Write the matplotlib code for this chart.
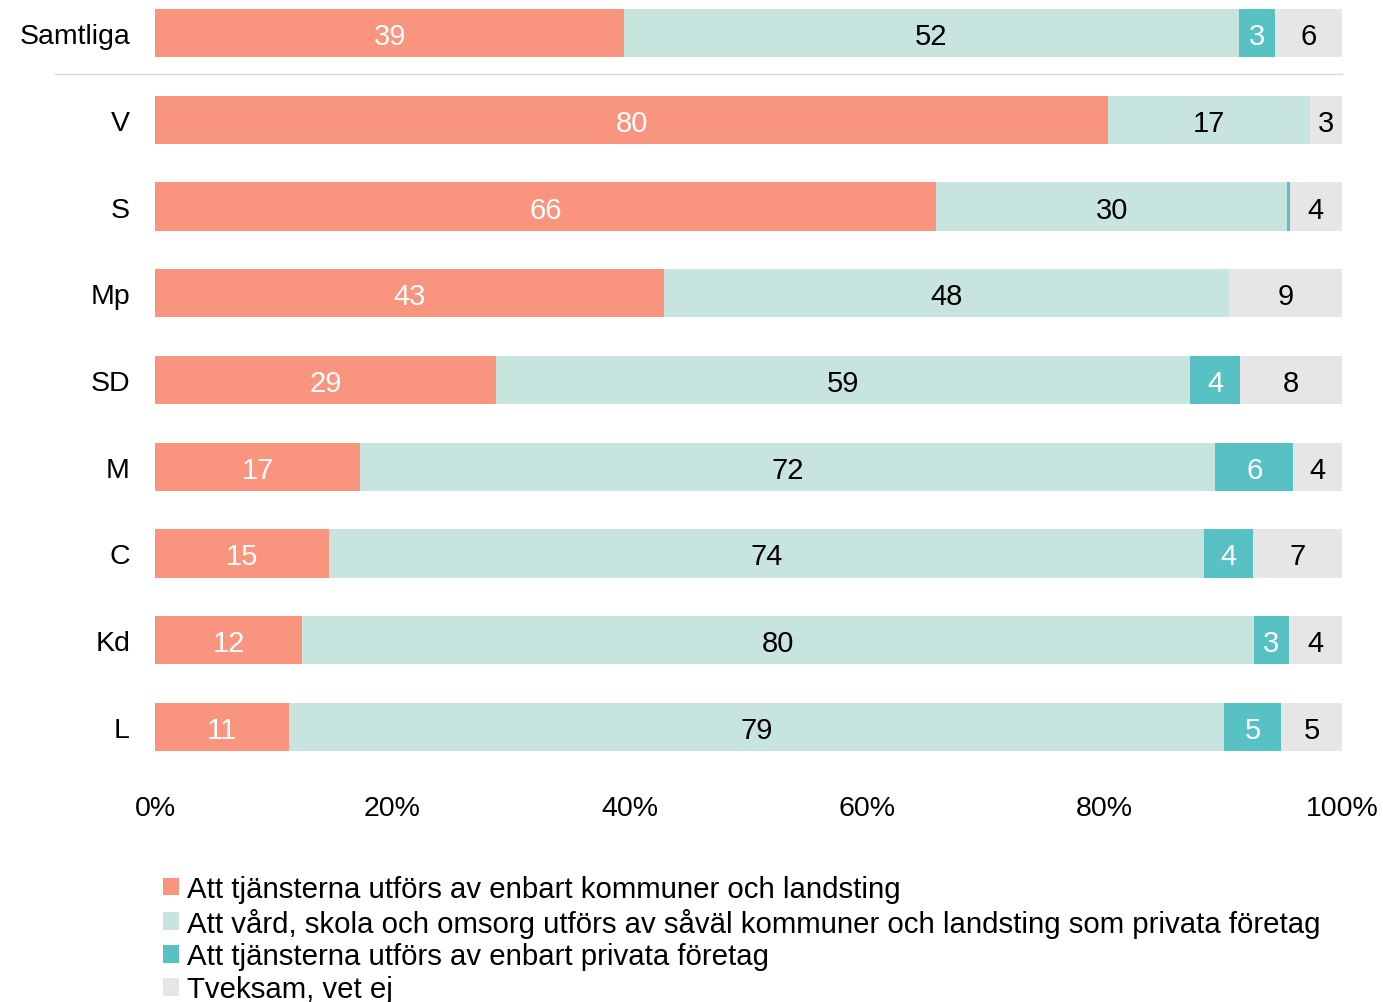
import numpy as np
import matplotlib.pyplot as plt
from matplotlib.patches import Patch

plt.rcParams['font.family'] = ['Liberation Sans', 'DejaVu Sans']

# Partier och andelar (procent, uppskattade ur bilden)
groups = ['Samtliga', 'V', 'S', 'Mp', 'SD', 'M', 'C', 'Kd', 'L']
kommun = np.array([39.5, 80.3, 65.8, 42.9, 28.7, 17.3, 14.7, 12.4, 11.3])
blandat = np.array([51.7, 17.0, 29.6, 47.6, 58.5, 72.0, 73.7, 80.1, 78.8])
privat = np.array([3.1, 0, 0.2, 0, 4.2, 6.6, 4.1, 2.9, 4.8])
vet_ej = np.array([5.6, 2.7, 4.4, 9.5, 8.6, 4.1, 7.5, 4.5, 5.1])

# Etiketter som de visas i diagrammet
kommun_lab = ['39', '80', '66', '43', '29', '17', '15', '12', '11']
blandat_lab = ['52', '17', '30', '48', '59', '72', '74', '80', '79']
privat_lab = ['3', '', '', '', '4', '6', '4', '3', '5']
vet_ej_lab = ['6', '3', '4', '9', '8', '4', '7', '4', '5']

legend_labels = ['Att tjänsterna utförs av enbart kommuner och landsting',
                 'Att vård, skola och omsorg utförs av såväl kommuner och landsting som privata företag',
                 'Att tjänsterna utförs av enbart privata företag',
                 'Tveksam, vet ej']
colors = ['#F9957E', '#C8E4DE', '#58C1C4', '#E6E6E6']
text_colors = ['white', 'black', 'white', 'black']

series = [kommun, blandat, privat, vet_ej]
labels = [kommun_lab, blandat_lab, privat_lab, vet_ej_lab]
totals = kommun + blandat + privat + vet_ej

fig = plt.figure(figsize=(13.83, 10.03), dpi=100)
ax = fig.add_axes([155/1383, 1 - 752/1003, (1342-155)/1383, (752-10)/1003])

y = np.arange(len(groups))
left = np.zeros(len(groups))
for vals, labs, col, tcol in zip(series, labels, colors, text_colors):
    w = vals / totals * 100
    ax.barh(y, w, left=left, height=0.554, color=col)
    for i in range(len(groups)):
        if labs[i]:
            ax.text(left[i] + w[i] / 2, y[i], labs[i], ha='center', va='center_baseline',
                    fontsize=21, color=tcol)
    left = left + w

ax.set_xlim(0, 100)
ax.set_ylim(len(groups) - 1 + 0.277, -0.277)
ax.set_yticks(y)
ax.set_yticklabels(groups, fontsize=20.5)
ax.set_xticks([0, 20, 40, 60, 80, 100])
ax.set_xticklabels(['0%', '20%', '40%', '60%', '80%', '100%'], fontsize=20.5)
ax.tick_params(axis='y', length=0, pad=18)
ax.tick_params(axis='x', length=0, pad=32)
for s in ax.spines.values():
    s.set_visible(False)

# avdelare under Samtliga
ax.plot([-8.4, 100], [0.47, 0.47], color='#D9D9D9', lw=1, clip_on=False)

handles = [Patch(facecolor=c, edgecolor='none') for c in colors]
fig.legend(handles, legend_labels, loc='upper left', bbox_to_anchor=(163/1383, 1 - 876/1003),
           frameon=False, fontsize=21.2, handlelength=0.55, handleheight=0.55,
           handletextpad=0.25, labelspacing=0.16, borderpad=0, borderaxespad=0)

fig.savefig('out.png', dpi=100)
